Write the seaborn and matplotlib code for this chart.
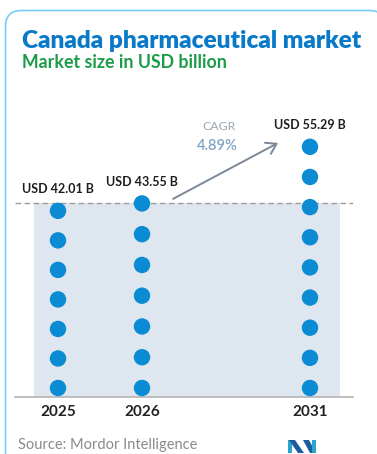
import numpy as np
import pandas as pd
import matplotlib
matplotlib.use("Agg")
import matplotlib.pyplot as plt
import seaborn as sns
from matplotlib.patches import FancyBboxPatch, Rectangle, Polygon

# ---- chart data -------------------------------------------------------
years = ["2025", "2026", "2031"]
market_size = [42.01, 43.55, 55.29]          # USD billion
value_labels = ["USD 42.01 B", "USD 43.55 B", "USD 55.29 B"]
dot_counts = [7, 7, 9]
cagr_label = "CAGR"
cagr_value = "4.89%"

title = "Canada pharmaceutical market"
subtitle = "Market size in USD billion"
source = "Source: Mordor Intelligence"

# ---- styling ----------------------------------------------------------
sns.set_style("white")
plt.rcParams["font.family"] = ["Lato", "DejaVu Sans"]

W, H = 377, 454
fig = plt.figure(figsize=(W / 100, H / 100), dpi=100)

# background canvas in pixel units (frame, headings, footer)
bg = fig.add_axes([0, 0, 1, 1], zorder=0)
bg.set_xlim(0, W)
bg.set_ylim(H, 0)
bg.axis("off")

frame = FancyBboxPatch((5.5, 10.5), 380, 470,
                       boxstyle="round,pad=0,rounding_size=16",
                       facecolor="white", edgecolor="#74cdf4", lw=1.2)
bg.add_patch(frame)

bg.text(22, 41.5, title, fontsize=17.6, fontweight="heavy", color="#0a7ac8",
        va="center", ha="left")
bg.text(22, 62.5, subtitle, fontsize=12.8, fontweight="bold", color="#1c9c48",
        va="center", ha="left")
bg.text(18, 452.5, source, fontsize=10.5, color="#8a8a8a", va="bottom", ha="left")

# CAGR callout
bg.text(219, 127, cagr_label, fontsize=8.8, color="#9ca6af",
        va="center", ha="center")
bg.text(217, 146, cagr_value, fontsize=10.5, color="#7fa4c3",
        va="center", ha="center", fontweight="semibold")

# small logo mark
logo_parts = [
    ([(288, 440), (292, 440), (292, 453), (288, 453)], "#2aa5cc"),
    ([(289, 440), (295, 440), (304, 453), (298, 453)], "#1d5d9e"),
    ([(303, 440), (309, 440), (316, 453), (310, 453)], "#1d5d9e"),
    ([(312, 440), (316, 440), (316, 453), (312, 453)], "#2aa5cc"),
]
for pts, col in logo_parts:
    bg.add_patch(Polygon(pts, closed=True, facecolor=col, edgecolor="none"))

# ---- dot columns ------------------------------------------------------
ax = fig.add_axes([15 / W, 1 - 397 / H, (353 - 15) / W, (397 - 100) / H], zorder=1)
ax.patch.set_alpha(0)
y_lo, y_hi = 3.4, 65.0
ax.set_xlim(-0.512, 3.512)
ax.set_ylim(y_lo, y_hi)
x_slot = [0, 1, 3]
base_level = y_lo + 1.87   # lowest dot sits just above the axis line

rows = []
for slot, yr, val, n in zip(x_slot, years, market_size, dot_counts):
    for v in np.linspace(base_level, val, n):
        rows.append({"slot": slot, "year": yr, "value": v})
dots = pd.DataFrame(rows)

ax.add_patch(Rectangle((-0.286, y_lo), 3.643, market_size[1] - y_lo,
                       facecolor="#dee6ef", edgecolor="none", zorder=0))
ax.axhline(market_size[1], color="#9d9d9d", lw=1.0, ls=(0, (4, 2.5)), zorder=1)

sns.scatterplot(data=dots, x="slot", y="value", s=140, color="#0a8bd3",
                edgecolor="none", linewidth=0, ax=ax, zorder=3, legend=False)

for slot, val, lbl in zip(x_slot, market_size, value_labels):
    ax.annotate(lbl, (slot, val), xytext=(0, 15.5), textcoords="offset points",
                ha="center", va="center", fontsize=9, fontweight="bold",
                color="#1f1f1f")

ax.annotate("", xy=(2.62, 56.1), xytext=(1.37, 44.5),
            arrowprops=dict(arrowstyle="->,head_length=0.7,head_width=0.45",
                            color="#7b8996", lw=1.4, shrinkA=0, shrinkB=0))

for side in ["top", "left", "right"]:
    ax.spines[side].set_visible(False)
ax.spines["bottom"].set_color("#b3b3b3")
ax.spines["bottom"].set_linewidth(1.2)
ax.set_xticks(x_slot, years)
ax.set_yticks([])
ax.tick_params(axis="x", length=0, pad=6, labelsize=11, labelcolor="#222222")
for t in ax.get_xticklabels():
    t.set_fontweight("bold")
ax.set_xlabel("")
ax.set_ylabel("")

fig.savefig("out.png", dpi=100)
